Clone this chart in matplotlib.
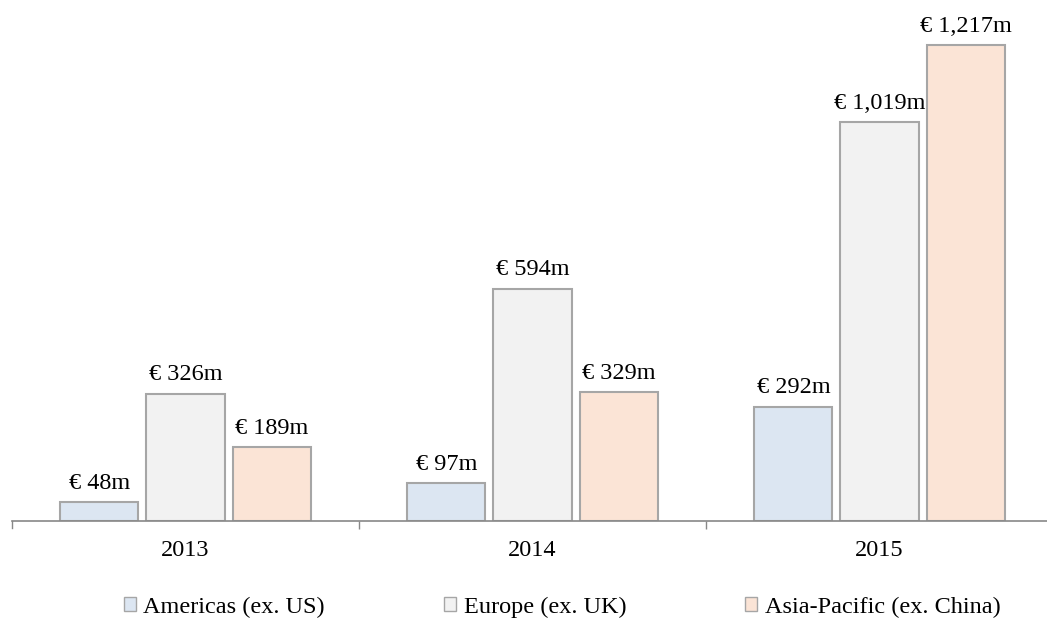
import matplotlib.pyplot as plt
import numpy as np
from matplotlib.patches import Patch

plt.rcParams['font.family'] = ['Liberation Serif', 'DejaVu Serif']

years = ['2013', '2014', '2015']
americas = [48, 97, 292]
europe = [326, 594, 1019]
asia = [189, 329, 1217]

regions = ['Americas (ex. US)', 'Europe (ex. UK)', 'Asia-Pacific (ex. China)']
colors = ['#dce6f2', '#f2f2f2', '#fbe4d6']
edge = '#a6a6a6'
fs = 17.5


def main():
    fig = plt.figure(figsize=(10.47, 6.22), dpi=100)
    # ось чуть выходит за правый край, как в исходном отчёте
    ax = fig.add_axes([12 / 1047, 101 / 622, 1041 / 1047, 501 / 622])

    x = np.arange(len(years))
    width = 0.225
    step = 0.248
    for k, (vals, col) in enumerate(zip([americas, europe, asia], colors)):
        pos = x + (k - 1) * step
        ax.bar(pos, vals, width, color=col, edgecolor=edge, linewidth=1.5)
        for p, v in zip(pos, vals):
            ax.annotate('€ {:,}m'.format(v), (p, v), xytext=(0, 6),
                        textcoords='offset points', ha='center', va='bottom',
                        fontsize=fs)

    ax.set_xlim(-0.5, 2.5)
    ax.set_ylim(0, 1281)
    ax.set_xticks([0.5, 1.5])
    ax.set_xticks(x, minor=True)
    ax.set_xticklabels([])
    ax.set_xticklabels(years, minor=True, fontsize=fs)
    ax.tick_params(axis='x', which='major', length=6, color='#888888', width=1)
    ax.tick_params(axis='x', which='minor', length=0, pad=14)
    ax.set_yticks([])
    for s in ['top', 'right', 'left']:
        ax.spines[s].set_visible(False)
    ax.spines['bottom'].set_color('#888888')
    ax.spines['bottom'].set_linewidth(1.2)
    # левая засечка у начала оси
    ax.plot([-0.5, -0.5], [0, -18], color='#888888', lw=1, clip_on=False)

    handles = [Patch(facecolor=c, edgecolor=edge, linewidth=1) for c in colors]
    fig.legend(handles, regions, loc='center', bbox_to_anchor=(0.537, 0.024),
               ncol=3, frameon=False, fontsize=fs, handlelength=0.5,
               handleheight=0.5, handletextpad=0.3, columnspacing=4.9)

    fig.savefig('out.png', dpi=100)


if __name__ == '__main__':
    main()
